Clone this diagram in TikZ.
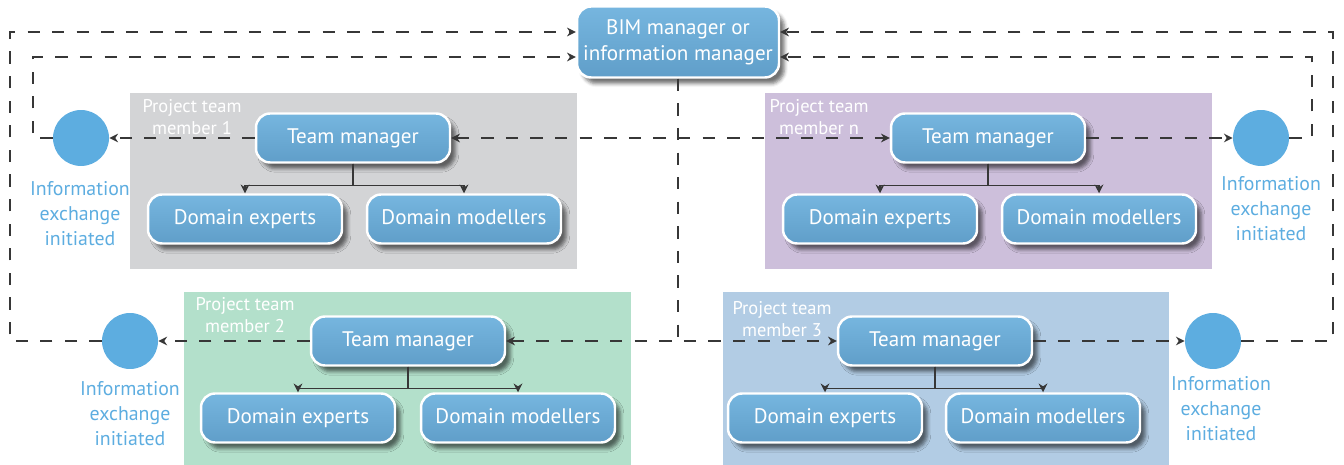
\documentclass[tikz,border=0pt]{standalone}
\usepackage{fontspec}
\setmainfont{PT Sans}
\usetikzlibrary{arrows.meta,shadows.blur}

\definecolor{boxtop}{RGB}{118,182,223}
\definecolor{boxbot}{RGB}{96,158,201}
\definecolor{circblue}{RGB}{93,173,224}
\definecolor{panelgrey}{RGB}{211,212,214}
\definecolor{panelpurple}{RGB}{205,191,219}
\definecolor{panelgreen}{RGB}{179,224,203}
\definecolor{panelblue}{RGB}{178,204,228}
\definecolor{linegrey}{RGB}{55,55,55}

\tikzset{
  rolebox/.style={rectangle, rounded corners=8pt, draw=white, line width=1.4pt,
    top color=boxtop, bottom color=boxbot, text=white, inner sep=0pt,
    minimum width=3.88cm, minimum height=0.98cm,
    font=\fontsize{12}{15}\selectfont, align=center,
    text height=0.8em, text depth=0.13em,
    blur shadow={shadow xshift=3pt, shadow yshift=-3.5pt, shadow opacity=55}},
  bimbox/.style={rolebox, minimum width=4.04cm, minimum height=1.42cm,
    text height=, text depth=},
  exchange/.style={circle, fill=circblue, minimum size=1.12cm, inner sep=0pt},
  extext/.style={text=circblue, align=center, font=\fontsize{11.3}{14.2}\selectfont},
  teamtext/.style={text=white, align=center, font=\fontsize{10.5}{12.5}\selectfont},
  flow/.style={draw=linegrey, line width=0.8pt, dash pattern=on 7pt off 7pt},
  tree/.style={draw=linegrey, line width=0.8pt, ->}
}

\begin{document}
\begin{tikzpicture}[x=0.02cm, y=-0.02cm, >={Stealth[length=5pt,width=5pt]}]

      \useasboundingbox (0,0) rectangle (1344,465);

      % panels of the project team members
      \fill[panelgrey]   (130,93)  rectangle (577,269);
      \fill[panelpurple] (765,93)  rectangle (1212,269);
      \fill[panelgreen]  (184,292) rectangle (631,465);
      \fill[panelblue]   (723,292) rectangle (1169,465);

      \node[teamtext] (team1) at (192,117) {Project team\\member 1};
      \node[teamtext] (teamn) at (819,117) {Project team\\member n};
      \node[teamtext] (team2) at (245,315) {Project team\\member 2};
      \node[teamtext] (team3) at (782,319) {Project team\\member 3};

      % BIM manager
      \node[bimbox] (bim) at (678,42) {BIM manager or\\information manager};

      % member 1
      \node[rolebox] (tm1) at (353,138) {Team manager};
      \node[rolebox] (de1) at (245,219) {Domain experts};
      \node[rolebox] (dm1) at (464,219) {Domain modellers};

      % member n
      \node[rolebox] (tmn) at (988,138) {Team manager};
      \node[rolebox] (den) at (880,219) {Domain experts};
      \node[rolebox] (dmn) at (1099,219) {Domain modellers};

      % member 2
      \node[rolebox] (tm2) at (408,341) {Team manager};
      \node[rolebox] (de2) at (298,418) {Domain experts};
      \node[rolebox] (dm2) at (518,418) {Domain modellers};

      % member 3
      \node[rolebox] (tm3) at (935,341) {Team manager};
      \node[rolebox] (de3) at (825,418) {Domain experts};
      \node[rolebox] (dm3) at (1043,418) {Domain modellers};

      % information exchange
      \node[exchange] (ie1) at (81,138) {};
      \node[exchange] (ien) at (1261,138) {};
      \node[exchange] (ie2) at (130,341) {};
      \node[exchange] (ie3) at (1213,341) {};
      \node[extext] (ie1txt) at (80,214)   {Information\\exchange\\initiated};
      \node[extext] (ientxt) at (1271,209) {Information\\exchange\\initiated};
      \node[extext] (ie2txt) at (130,414)  {Information\\exchange\\initiated};
      \node[extext] (ie3txt) at (1221,409) {Information\\exchange\\initiated};

      % turning points of the return lines
      \coordinate (outerL) at (10,32);
      \coordinate (innerL) at (33,57);
      \coordinate (innerR) at (1312,57);
      \coordinate (outerR) at (1333,32);

      % hierarchy inside the teams
      \foreach \t/\e/\m in {tm1/de1/dm1, tmn/den/dmn, tm2/de2/dm2, tm3/de3/dm3} {
        \draw[tree] (\t.south) -- ++(0,22) -| (\e.north);
        \draw[tree] (\t.south) -- ++(0,22) -| (\m.north);
      }

      % exchange between the teams
      \draw[flow, <->] (tm1.east) -- (tmn.west);
      \draw[flow, <->] (tm2.east) -- (tm3.west);
      \draw[flow] (bim.south) -- (bim.south |- tm2.east);

      \draw[flow, ->] (tm1.west) -- (ie1.east);
      \draw[flow, ->] (tmn.east) -- (ien.west);
      \draw[flow, ->] (tm2.west) -- (ie2.east);
      \draw[flow, ->] (tm3.east) -- (ie3.west);

      % back to the BIM manager
      \draw[flow, ->] (ie1.west) -| (innerL) -- (innerL -| bim.west);
      \draw[flow, ->] (ie2.west) -| (outerL) -- (outerL -| bim.west);
      \draw[flow, ->] (ien.east) -| (innerR) -- (innerR -| bim.east);
      \draw[flow, ->] (ie3.east) -| (outerR) -- (outerR -| bim.east);

    \end{tikzpicture}
\end{document}
